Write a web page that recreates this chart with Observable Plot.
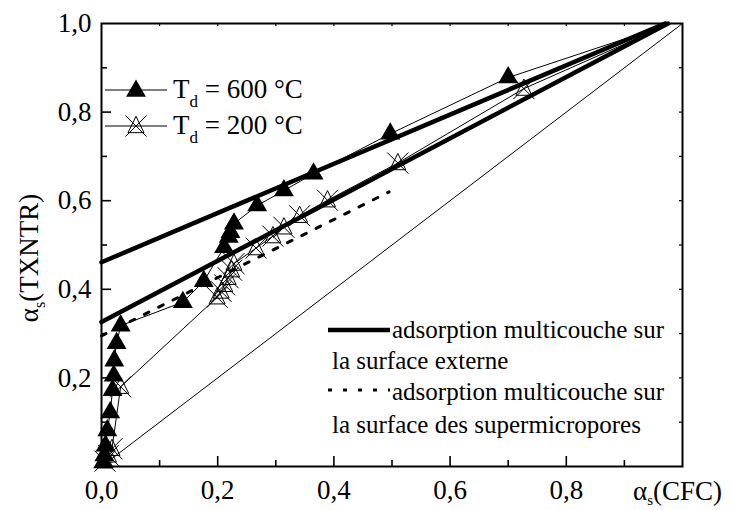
<!DOCTYPE html>
<html>
<head>
<meta charset="utf-8">
<script src="https://cdn.jsdelivr.net/npm/d3@7"></script>
<script src="https://cdn.jsdelivr.net/npm/@observablehq/plot@0.6"></script>
<style>
  html, body { margin: 0; padding: 0; background: #fff; }
  svg text { font-family: "Liberation Serif", "Times New Roman", "DejaVu Serif", serif; }
</style>
</head>
<body>
<div id="chart"></div>
<script>
// ---- data ----
const x600 = [0.003, 0.005, 0.007, 0.010, 0.015, 0.019, 0.021, 0.022, 0.026, 0.033, 0.140, 0.176, 0.211, 0.219, 0.222, 0.228, 0.268, 0.314, 0.365, 0.497, 0.700];
const y600 = [0.009, 0.025, 0.047, 0.081, 0.122, 0.172, 0.205, 0.239, 0.278, 0.318, 0.371, 0.418, 0.495, 0.518, 0.529, 0.548, 0.589, 0.623, 0.661, 0.751, 0.878];
const x200 = [0.006, 0.012, 0.018, 0.033, 0.199, 0.206, 0.212, 0.218, 0.224, 0.228, 0.266, 0.295, 0.314, 0.341, 0.389, 0.510, 0.727];
const y200 = [0.012, 0.025, 0.040, 0.180, 0.382, 0.395, 0.410, 0.426, 0.443, 0.458, 0.493, 0.520, 0.540, 0.566, 0.601, 0.685, 0.853];
const seriesEnd = [0.98, 1.0];           // common end of both curves (no marker)
const ext600 = [[0, 0.461], [0.97, 1.0]]; // external-surface fit, 600 °C
const ext200 = [[0, 0.326], [0.975, 1.0]];// external-surface fit, 200 °C
const superFit = [[0, 0.295], [0.495, 0.62]]; // supermicropore fit
const diagonal = [[0, 0], [1, 1]];
const xTicks = [0, 0.2, 0.4, 0.6, 0.8];
const yTicks = [0.2, 0.4, 0.6, 0.8, 1.0];
const xMinor = [0.1, 0.3, 0.5, 0.7, 0.9];
const yMinor = [0.1, 0.3, 0.5, 0.7, 0.9];
const xMajorTicks = [0.2, 0.4, 0.6, 0.8];
const yMajorTicks = [0.2, 0.4, 0.6, 0.8];
const legendSeries = ["T", "d", " = 600 °C", " = 200 °C"];
const legendFits = ["adsorption multicouche sur", "la surface externe", "adsorption multicouche sur", "la surface des supermicropores"];

// ---- build tables ----
const pts600 = x600.map((x, i) => ({x, y: y600[i]}));
const pts200 = x200.map((x, i) => ({x, y: y200[i]}));
const line600 = [...pts600, {x: seriesEnd[0], y: seriesEnd[1]}];
const line200 = [...pts200, {x: seriesEnd[0], y: seriesEnd[1]}];
const toPts = a => a.map(([x, y]) => ({x, y}));

const W = 732, H = 510, mL = 101, mR = 50, mT = 23, mB = 44;
const innerH = H - mT - mB, innerW = W - mL - mR;
const fmt = d => d.toFixed(1).replace(".", ",");
const FONT = "Liberation Serif, Times New Roman, DejaVu Serif, serif";

// custom symbol: open triangle with a cross
const starTri = {
  draw(ctx, size) {
    const r = Math.sqrt(size / Math.PI);
    const t = r * 1.42;
    ctx.moveTo(0, -r * 1.3);
    ctx.lineTo(r * 1.08, r * 0.9);
    ctx.lineTo(-r * 1.08, r * 0.9);
    ctx.closePath();
    ctx.moveTo(-t, -t); ctx.lineTo(t, t);
    ctx.moveTo(t, -t); ctx.lineTo(-t, t);
  }
};

const svg = Plot.plot({
  width: W, height: H,
  marginLeft: mL, marginRight: mR, marginTop: mT, marginBottom: mB,
  style: {fontFamily: FONT, fontSize: "27px", background: "#fff", color: "#000"},
  x: {domain: [0, 1], label: null},
  y: {domain: [0, 1], label: null},
  marks: [
    // ticks (inward)
    Plot.tickX(xMajorTicks, {x: d => d, insetTop: innerH - 10, strokeWidth: 1.6}),
    Plot.tickX(xMinor, {x: d => d, insetTop: innerH - 6, strokeWidth: 1.6}),
    Plot.tickY(yMajorTicks, {y: d => d, insetRight: innerW - 10, strokeWidth: 1.6}),
    Plot.tickY(yMinor, {y: d => d, insetRight: innerW - 6, strokeWidth: 1.6}),
    Plot.tickX(xMajorTicks.concat(xMinor), {x: d => d, insetBottom: innerH - 3, strokeWidth: 1.2}),
    Plot.tickY(yMajorTicks.concat(yMinor), {y: d => d, insetLeft: innerW - 3, strokeWidth: 1.2}),
    Plot.axisX({ticks: xTicks, tickSize: 0, tickPadding: 13, tickFormat: fmt, fontSize: 27, fontFamily: FONT, label: null}),
    Plot.axisY({ticks: yTicks, tickSize: 0, tickPadding: 10, tickFormat: fmt, fontSize: 27, fontFamily: FONT, label: null}),
    // reference lines
    Plot.line(toPts(diagonal), {x: "x", y: "y", stroke: "#000", strokeWidth: 1}),
    Plot.line(toPts(ext600), {x: "x", y: "y", stroke: "#000", strokeWidth: 4.5}),
    Plot.line(toPts(ext200), {x: "x", y: "y", stroke: "#000", strokeWidth: 4.5}),
    Plot.line(toPts(superFit), {x: "x", y: "y", stroke: "#000", strokeWidth: 3, strokeDasharray: "5,11"}),
    // data series
    Plot.line(line600, {x: "x", y: "y", stroke: "#000", strokeWidth: 1}),
    Plot.line(line200, {x: "x", y: "y", stroke: "#000", strokeWidth: 1}),
    Plot.dot(pts200, {x: "x", y: "y", symbol: starTri, r: 7.4, fill: "none", stroke: "#000", strokeWidth: 1}),
    Plot.dot(pts600, {x: "x", y: "y", symbol: "triangle", r: 7.4, fill: "#000", stroke: "none"}),
    Plot.frame({stroke: "#000", strokeWidth: 2})
  ]
});

document.getElementById("chart").appendChild(svg);

// ---- legends and axis titles ----
const s = d3.select(svg);
const g = s.append("g").attr("font-family", FONT).attr("fill", "#000").attr("text-anchor", "start");

// top-left series legend
const rows = [{y: 90, filled: true, label: legendSeries[2]}, {y: 126, filled: false, label: legendSeries[3]}];
rows.forEach(r => {
  g.append("line").attr("x1", 105).attr("x2", 167).attr("y1", r.y).attr("y2", r.y).attr("stroke", "#000").attr("stroke-width", 1);
  if (r.filled) {
    g.append("path").attr("d", d3.symbol(d3.symbolTriangle, Math.PI * 7.4 * 7.4)()).attr("transform", `translate(136,${r.y + 1})`).attr("fill", "#000");
  } else {
    g.append("path").attr("d", d3.symbol(starTri, Math.PI * 7.4 * 7.4)()).attr("transform", `translate(136,${r.y})`).attr("fill", "none").attr("stroke", "#000").attr("stroke-width", 1);
  }
  const t = g.append("text").attr("x", 173).attr("y", r.y + 8).attr("font-size", 27).attr("text-anchor", "start");
  t.append("tspan").text(legendSeries[0]);
  t.append("tspan").attr("font-size", 17).attr("dy", 9).text(legendSeries[1]);
  t.append("tspan").attr("dy", -9).text(r.label);
});

// bottom-right fit legend
g.append("line").attr("x1", 328).attr("x2", 390).attr("y1", 330).attr("y2", 330).attr("stroke", "#000").attr("stroke-width", 4.5);
g.append("text").attr("x", 392).attr("y", 338).attr("font-size", 25).attr("text-anchor", "start").text(legendFits[0]);
g.append("text").attr("x", 332).attr("y", 369).attr("font-size", 25).attr("text-anchor", "start").text(legendFits[1]);
g.append("line").attr("x1", 328).attr("x2", 390).attr("y1", 390).attr("y2", 390).attr("stroke", "#000").attr("stroke-width", 3).attr("stroke-dasharray", "4,11");
g.append("text").attr("x", 392).attr("y", 400).attr("font-size", 25).attr("text-anchor", "start").text(legendFits[2]);
g.append("text").attr("x", 332).attr("y", 433).attr("font-size", 25).attr("text-anchor", "start").text(legendFits[3]);

// x title
const xt = g.append("text").attr("x", 633).attr("y", 500).attr("font-size", 27).attr("text-anchor", "start");
xt.append("tspan").text("α");
xt.append("tspan").attr("font-size", 15).attr("dy", 5).text("s");
xt.append("tspan").attr("dy", -5).text("(CFC)");

// y title
const yt = g.append("text").attr("transform", "translate(38,258) rotate(-90)").attr("text-anchor", "middle").attr("font-size", 27);
yt.append("tspan").text("α");
yt.append("tspan").attr("font-size", 16).attr("dy", 7).text("s");
yt.append("tspan").attr("dy", -7).text("(TXNTR)");
</script>
</body>
</html>
